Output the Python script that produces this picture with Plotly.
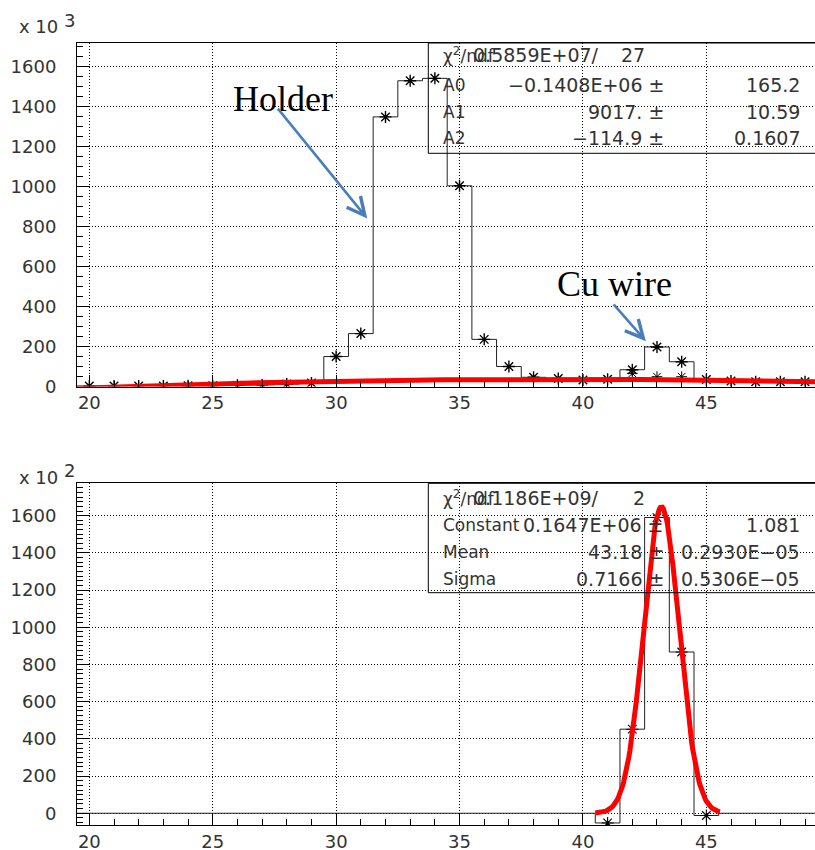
import numpy as np
import plotly.graph_objects as go

W, H = 815, 850

# ---------------- data ----------------
bin_centers = [20, 21, 22, 23, 24, 25, 26, 27, 28, 29,
               30, 31, 32, 33, 34, 35, 36, 37, 38, 39,
               40, 41, 42, 43, 44, 45, 46, 47, 48, 49]
# top histogram, units of 10^3
top_counts = [2, 3, 3, 3, 4, 4, 6, 8, 12, 18,
              150, 265, 1350, 1531, 1543, 1005, 236, 100, 46, 40,
              32, 36, 84, 198, 124, 35, 28, 24, 24, 24]
top_extra_x = [42, 43, 44]
top_extra_y = [66, 49, 49]
# bottom histogram, units of 10^2
bottom_counts = [0, 0, 0, 0, 0, 0, 0, 0, 0, 0,
                 0, 0, 0, 0, 0, 0, 0, 0, 0, 0,
                 0, -52, 452, 1590, 867, -12, 0, 0, 0, 0]

# fit results shown in the stat boxes
pol_A0, pol_A1, pol_A2 = -0.1408e6, 9017.0, -114.9
pol_range = (19.5, 49.5)
gaus_const, gaus_mean, gaus_sigma = 0.1647e6, 43.18, 0.7166
gaus_range = (40.5, 45.55)

top_stats = [
    ("χ<sup>2</sup>/ndf", "0.5859E+07/", "27", None),
    ("A0", "−0.1408E+06 ±", None, "165.2"),
    ("A1", "9017. ±", None, "10.59"),
    ("A2", "−114.9 ±", None, "0.1607"),
]
bottom_stats = [
    ("χ<sup>2</sup>/ndf", "0.1186E+09/", "2", None),
    ("Constant", "0.1647E+06 ±", None, "1.081"),
    ("Mean", "43.18 ±", None, "0.2930E−05"),
    ("Sigma", "0.7166 ±", None, "0.5306E−05"),
]

# ---------------- helpers ----------------
def px(x):
    return x / W


def py(y):
    return 1 - y / H


def steps(centers, vals, w=1.0):
    xs, ys = [], []
    for c, v in zip(centers, vals):
        xs += [c - w / 2, c + w / 2]
        ys += [v, v]
    return xs, ys


star = dict(symbol="asterisk-open", size=10, color="black",
            line=dict(color="black", width=1.4))

fig = go.Figure()

# ---- top panel ----
sx, sy = steps(bin_centers, top_counts)
fig.add_trace(go.Scatter(x=sx, y=sy, mode="lines", line=dict(color="#222", width=1),
                         xaxis="x", yaxis="y", hoverinfo="skip"))
fig.add_trace(go.Scatter(x=bin_centers, y=top_counts, mode="markers", marker=star,
                         xaxis="x", yaxis="y"))
fig.add_trace(go.Scatter(x=top_extra_x, y=top_extra_y, mode="markers",
                         marker=dict(symbol="asterisk-open", size=9, color="black",
                                     line=dict(color="black", width=1)),
                         xaxis="x", yaxis="y"))
xf = np.linspace(pol_range[0], pol_range[1], 120)
yf = (pol_A0 + pol_A1 * xf + pol_A2 * xf ** 2) / 1e3
fig.add_trace(go.Scatter(x=xf, y=yf, mode="lines", line=dict(color="#ff0000", width=5),
                         xaxis="x", yaxis="y"))

# ---- bottom panel ----
sx2, sy2 = steps(bin_centers, bottom_counts)
fig.add_trace(go.Scatter(x=sx2, y=sy2, mode="lines", line=dict(color="#222", width=1),
                         xaxis="x2", yaxis="y2", hoverinfo="skip"))
nz = [(c, v) for c, v in zip(bin_centers, bottom_counts) if v != 0]
fig.add_trace(go.Scatter(x=[c for c, _ in nz], y=[v for _, v in nz], mode="markers",
                         marker=dict(symbol="asterisk-open", size=10, color="black",
                                     line=dict(color="black", width=1.1)),
                         xaxis="x2", yaxis="y2"))
xg = np.linspace(gaus_range[0], gaus_range[1], 120)
yg = gaus_const * np.exp(-0.5 * ((xg - gaus_mean) / gaus_sigma) ** 2) / 1e2
fig.add_trace(go.Scatter(x=xg, y=yg, mode="lines", line=dict(color="#ff0000", width=5),
                         xaxis="x2", yaxis="y2"))

# ---------------- axes ----------------
tickfont = dict(family="DejaVu Sans", size=18, color="#333")
xr = [19.5, 19.5 + (W - 77) / 24.68]


def xaxis_cfg(anchor):
    return dict(domain=[77 / W, 1], range=xr, anchor=anchor, automargin=False,
                tickmode="linear", tick0=20, dtick=5,
                ticks="inside", ticklen=12, tickcolor="black", tickwidth=1,
                minor=dict(dtick=1, ticks="inside", ticklen=6, tickcolor="black", showgrid=False),
                showgrid=True, gridcolor="black", griddash="1px,2px", gridwidth=1,
                showline=True, linecolor="black", linewidth=1, mirror=True,
                zeroline=False, tickfont=tickfont, ticklabelstandoff=0)


def yaxis_cfg(anchor, dom, rng, minor):
    return dict(domain=dom, range=rng, anchor=anchor, automargin=False,
                tickmode="linear", tick0=0, dtick=200,
                ticks="inside", ticklen=12, tickcolor="black", tickwidth=1,
                minor=dict(dtick=minor, ticks="inside", ticklen=6, tickcolor="black", showgrid=False),
                showgrid=True, gridcolor="black", griddash="1px,2px", gridwidth=1,
                showline=True, linecolor="black", linewidth=1, mirror=True,
                zeroline=False, tickfont=tickfont, ticklabelstandoff=16)


fig.update_layout(
    width=W, height=H, autosize=False, margin=dict(l=0, r=0, t=0, b=0, pad=0),
    paper_bgcolor="white", plot_bgcolor="white", showlegend=False,
    xaxis=xaxis_cfg("y"),
    yaxis=yaxis_cfg("x", [py(386.5), py(43)], [0, 1720], 50),
    xaxis2=xaxis_cfg("y2"),
    yaxis2=yaxis_cfg("x2", [py(825), py(483.3)], [-63, 1774], 25),
)

# ---------------- annotations ----------------
ann = []
txtfont = dict(family="DejaVu Sans", size=17, color="#333")
numfont = dict(family="DejaVu Sans", size=19, color="#333")


def add_text(x, y, text, anchor="left", font=txtfont):
    ann.append(dict(x=px(x), y=py(y), xref="paper", yref="paper", text=text,
                    showarrow=False, xanchor=anchor, yanchor="middle", font=font))


# exponent labels
add_text(17, 27, "x 10", font=tickfont)
add_text(62, 20, "3", font=tickfont)
add_text(17, 477, "x 10", font=tickfont)
add_text(62, 470, "2", font=tickfont)

# stats boxes
shapes = []
for (rows, top, bottom, ys) in [(top_stats, 43, 153.3, [55, 85, 112, 138]),
                                (bottom_stats, 483.3, 592.7, [498, 525, 552, 579])]:
    shapes.append(dict(type="rect", xref="paper", yref="paper",
                       x0=px(428.3), x1=px(W + 5), y0=py(bottom), y1=py(top),
                       line=dict(color="black", width=1)))
    for (name, val, ndf, err), yy in zip(rows, ys):
        add_text(441, yy, name)
        if ndf is not None:
            add_text(601, yy, val, anchor="right", font=numfont)
            add_text(647, yy, ndf, anchor="right", font=numfont)
        else:
            add_text(666, yy, val, anchor="right", font=numfont)
            add_text(802, yy, err, anchor="right", font=numfont)

# labels with arrows
serif = dict(family="Liberation Serif", size=36, color="black")
ann.append(dict(x=27.85, y=1440, xref="x", yref="y", text="Holder", showarrow=False,
                xanchor="center", yanchor="middle", font=serif))
ann.append(dict(x=31.26, y=841, ax=27.59, ay=1399, xref="x", yref="y", axref="x", ayref="y",
                text="", showarrow=True, arrowhead=5, arrowsize=1.4, arrowwidth=2.5,
                arrowcolor="#4a7ebb"))
ann.append(dict(x=41.26, y=512, xref="x", yref="y", text="Cu wire", showarrow=False,
                xanchor="center", yanchor="middle", font=serif))
ann.append(dict(x=42.55, y=227, ax=41.19, ay=419, xref="x", yref="y", axref="x", ayref="y",
                text="", showarrow=True, arrowhead=5, arrowsize=1.4, arrowwidth=2.5,
                arrowcolor="#4a7ebb"))

fig.update_layout(annotations=ann, shapes=shapes)
fig.write_html("out.html")
